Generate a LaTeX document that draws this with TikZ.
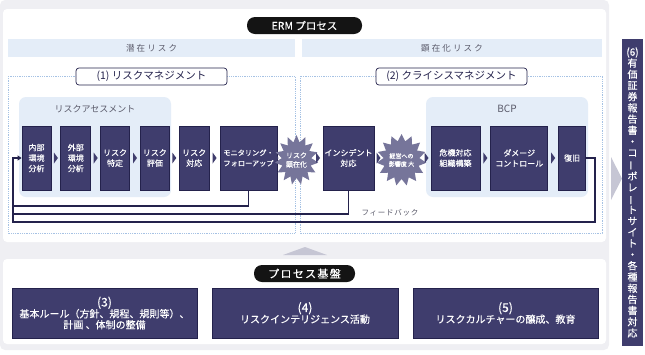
\documentclass[tikz,border=0pt]{standalone}
\usepackage{fontspec}
\setmainfont{Noto Sans CJK JP}
\newfontfamily\jpbold{Noto Sans CJK JP}[FakeBold=0.3]
\usepackage{graphicx}
\usepackage{xcolor}
\definecolor{navy}{HTML}{3F3D6D}
\definecolor{navyDark}{HTML}{24224C}
\definecolor{burstGray}{HTML}{76759A}
\definecolor{paleBlue}{HTML}{E4EDF8}
\definecolor{dotBlue}{HTML}{A6C2E4}
\definecolor{bgGray}{HTML}{EFEFF3}
\definecolor{midGray}{HTML}{C6C6D4}
\definecolor{txtGray}{HTML}{5A5A6A}
\usetikzlibrary{arrows.meta,positioning,shapes.geometric,shapes.symbols,calc}
\newcommand{\tatebar}{\rotatebox[origin=c]{90}{ー}}
\newcommand{\numlab}[1]{{\fontsize{12}{12}\selectfont #1}}

\begin{document}
\begin{tikzpicture}[x=1pt,y=-1pt,
  node distance=9pt,
  stepbox/.style={draw=navyDark,line width=0.8pt,fill=navy,text=white,minimum height=64pt,inner sep=0pt,align=center,font=\jpbold\fontsize{8}{10.5}\selectfont},
  burstnode/.style={starburst,random starburst=0,starburst points=15,starburst point height=7pt,fill=burstGray,text=white,inner sep=0pt,align=center},
  chev/.style={rectangle,inner sep=0pt,minimum width=4pt,minimum height=11pt,
    path picture={\fill[navy] (path picture bounding box.south west) -- (path picture bounding box.east) -- (path picture bounding box.north west) -- cycle;}},
  band/.style={fill=paleBlue,minimum height=18pt,text=txtGray,font=\fontsize{8.5}{8.5}\selectfont\addfontfeature{LetterSpace=25}},
  dotframe/.style={draw=dotBlue,densely dotted,line width=0.8pt},
  tagbox/.style={draw=navyDark,line width=0.7pt,fill=white,rounded corners=3pt,minimum width=151pt,minimum height=17pt,inner sep=0pt,text=navyDark,font=\fontsize{10.5}{10.5}\selectfont},
  pillbox/.style={fill=black!92,rounded corners=8pt,text=white,inner sep=0pt,minimum height=17pt,font=\jpbold\fontsize{10.5}{10.5}\selectfont},
  basebox/.style={draw=navyDark,line width=0.8pt,fill=navy,text=white,minimum width=186pt,minimum height=50pt,inner sep=0pt,align=center,font=\jpbold\fontsize{10}{11}\selectfont},
  graytext/.style={text=txtGray,font=\fontsize{9}{9}\selectfont},
  fb/.style={draw=navyDark,line width=1.4pt}
]
\useasboundingbox (0,0) rectangle (645,354);
% panels
\fill[bgGray,rounded corners=5pt] (0,0) rectangle (609,350);
\fill[white,rounded corners=4pt] (3,9) rectangle (606,242);
\fill[white,rounded corners=4pt] (3,259) rectangle (606,344);

\node[pillbox,minimum width=115pt] (erm) at (304.5,25.5) {ERM プロセス};
\node[band,minimum width=287pt] (senzai) at (151.5,48) {潜在リスク};
\node[band,minimum width=300pt] (kenzai) at (452,48) {顕在化リスク};

\draw[dotframe] (8,76) rectangle (295,233);
\draw[dotframe] (300,76) rectangle (602,233);
\node[tagbox] (riskman) at (151.5,76.5) {(1) リスクマネジメント};
\node[tagbox] (crisisman) at (451.5,76.5) {(2) クライシスマネジメント};

\fill[paleBlue,rounded corners=7pt] (19,97) rectangle (171,197);
\fill[paleBlue,rounded corners=7pt] (426,97) rectangle (588,197);
\node[graytext] (assess) at (95,109) {リスクアセスメント};
\node[graytext,font=\fontsize{10}{10}\selectfont] (bcp) at (507,109) {BCP};

% process chain
\node[stepbox,minimum width=29pt] (naibu) at (36.5,158) {内部\\環境\\分析};
\node[stepbox,minimum width=30pt,right=of naibu] (gaibu) {外部\\環境\\分析};
\node[stepbox,minimum width=29pt,right=of gaibu] (tokutei) {リスク\\特定};
\node[stepbox,minimum width=29pt,right=10pt of tokutei] (hyoka) {リスク\\評価};
\node[stepbox,minimum width=30pt,right=of hyoka] (taio) {リスク\\対応};
\node[stepbox,minimum width=57pt,right=10pt of taio,font=\jpbold\fontsize{7.2}{10.5}\selectfont] (monitor) {モニタリング・\\フォローアップ};
\node[burstnode,minimum width=36pt,minimum height=50pt,font=\jpbold\fontsize{7}{9}\selectfont] (kenzaika) at (296.5,160) {リスク\\顕在化};
\node[stepbox,minimum width=51pt] (incident) at (348.5,158) {インシデント\\対応};
\node[burstnode,minimum width=41pt,minimum height=52pt,font=\jpbold\fontsize{6}{8}\selectfont] (eikyo) at (401.5,160) {経営への\\影響度 大};
\node[stepbox,minimum width=49pt] (kiki) at (455.5,158) {危機対応\\組織構築};
\node[stepbox,minimum width=57pt,right=10pt of kiki] (damage) {ダメージ\\コントロール};
\node[stepbox,minimum width=27pt,right=10pt of damage] (fukkyu) {復旧};

\node[chev] (c1) at ($(naibu.east)!.5!(gaibu.west)$) {}; \node[chev] (c2) at ($(gaibu.east)!.5!(tokutei.west)$) {};
\node[chev] (c3) at ($(tokutei.east)!.5!(hyoka.west)$) {}; \node[chev] (c4) at ($(hyoka.east)!.5!(taio.west)$) {};
\node[chev] (c5) at ($(taio.east)!.5!(monitor.west)$) {}; \node[chev] (c6) at (276.5,158) {};
\node[chev] (c7) at (318,158) {}; \node[chev] (c8) at (378.5,158) {};
\node[chev] (c9) at (426.5,158) {}; \node[chev] (c10) at ($(kiki.east)!.5!(damage.west)$) {};
\node[chev] (c11) at ($(damage.east)!.5!(fukkyu.west)$) {};

% feedback
\coordinate (fb1) at (13,206);
\coordinate (fb2) at (13,214);
\coordinate (fb3) at (13,222);
\coordinate (fbR) at (595,222);
\draw[fb] (monitor.south) |- (fb1);
\draw[fb] (incident.south) |- (fb2);
\draw[fb,-{Triangle[length=4pt,width=5pt]}] (fukkyu.east) -| (fbR) -- (fb3) |- (naibu.west);
\node[graytext,font=\fontsize{7.5}{7.5}\selectfont\addfontfeature{LetterSpace=10}] (feedback) at (390,213) {フィードバック};

% base
\fill[midGray] (283,255) -- (305,247) -- (327,255) -- cycle;
\node[pillbox,minimum width=101pt,font=\jpbold\fontsize{11}{11}\selectfont\addfontfeature{LetterSpace=12}] (kiban) at (304.5,273.5) {プロセス基盤};
\node[basebox,minimum width=185pt] (rule) at (104.5,313) {\numlab{(3)}\\基本ルール（方針、規程、規則等）、\\計画 、体制の整備};
\node[basebox] (intel) at (305,313) {\numlab{(4)}\\リスクインテリジェンス活動};
\node[basebox,minimum width=185pt] (culture) at (505.5,313) {\numlab{(5)}\\リスクカルチャーの醸成、教育};

% disclosure
\fill[midGray] (611,157) -- (622,178.5) -- (611,200) -- cycle;
\node[fill=navy,text=white,minimum width=21pt,minimum height=307pt,inner sep=0pt,align=center,font=\jpbold\fontsize{10}{11.2}\selectfont] (yuho) at (632.5,192.5)
  {(6)\\有\\価\\証\\券\\報\\告\\書\\・\\コ\\\tatebar\\ポ\\レ\\\tatebar\\ト\\サ\\イ\\ト\\・\\各\\種\\報\\告\\書\\対\\応};
\end{tikzpicture}
\end{document}
